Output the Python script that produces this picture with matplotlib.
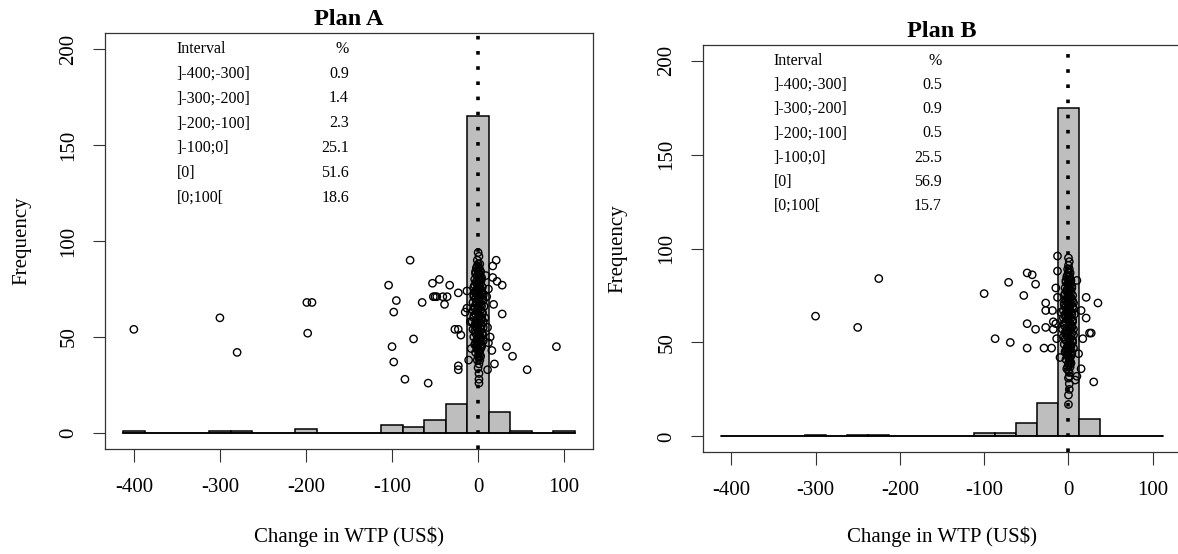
import matplotlib.pyplot as plt

plt.rcParams['font.family'] = ['Liberation Serif', 'DejaVu Serif']

# histogram bins (width 25, centred on multiples of 25)
bin_centres = [-400, -375, -350, -325, -300, -275, -250, -225, -200, -175, -150,
               -125, -100, -75, -50, -25, 0, 25, 50, 75, 100]
counts_a = [1, 0, 0, 0, 1, 1, 0, 0, 2, 0, 0, 0, 4, 3, 7, 15, 165, 11, 1, 0, 1]
counts_b = [0, 0, 0, 0, 1, 0, 1, 1, 0, 0, 0, 0, 2, 2, 7, 18, 175, 9, 0, 0, 0]

# table text
intervals = [']-400;-300]', ']-300;-200]', ']-200;-100]', ']-100;0]', '[0]', '[0;100[']
pct_a = ['0.9', '1.4', '2.3', '25.1', '51.6', '18.6']
pct_b = ['0.5', '0.9', '0.5', '25.5', '56.9', '15.7']

# individual changes in WTP (x) plotted against a jittered height (y)
pts_a_x = [-400, -300, -280, -199, -193, -198,
           -104, -79, -95, -98, -100, -98, -85, -75, -65, -58, -53, -45,
           -52, -50, -48, -41, -39, -36, -33, -23, -27, -23, -20, -23, -23,
           -11, -13, -13, -15, -9, -8,
           21, 17, 17, 22, 28, 18, 28, 33, 40, 16, 19, 11, 57, 91, 11, 12,
           10, 12, 14, 9, 8]
pts_a_y = [54, 60, 42, 68, 68, 52,
           77, 90, 69, 63, 45, 37, 28, 49, 68, 26, 78, 80,
           71, 71, 71, 71, 67, 71, 77, 73, 54, 54, 51, 35, 33,
           38, 74, 65, 63, 58, 44,
           90, 87, 81, 79, 77, 67, 62, 45, 40, 43, 36, 33, 33, 45, 55, 47,
           71, 75, 50, 82, 60]

# dense column of respondents with (almost) no change, plan A
col_a_x = [0, 1, -1, 0, 2, -2, 1, 0, 3, -3, -1, 2, -4, 1, 4, -2, 0, 3,
           -5, 1, 5, -3, 0, 4, -5, -1, 2, 6, -3, 1, 5, -6, -2, 2,
           -4, 0, 4, 7, -6, -1, 3, -3, 1, 5, -5, 0, 4, -7, -2, 2, 6,
           -4, 0, 4, -6, -1, 3, -3, 1, 5, -5, 0, 3, -2, 2, 6, -4, 0, 4,
           -1, 3, -3, 1, 0, 3, -1, 2, 1, 0, 1, 1, 1,
           -1, 2, -3, 1, 4, -2, 2, -4, 0, 3, -1, 5, -3, 2, -5, 1, 6,
           -2, 3, -4, 0, 5, -1, 2, -5, 1, 4, -3, 0, 6, -2, 2, -4, 1, 5,
           -1, 3, -3, 0, 4, -2, 2, 0, 2, 1]
col_a_y = [94, 92, 90, 88, 88, 86, 86, 84, 84, 84, 82, 82, 80, 80, 80, 78, 78, 78,
           76, 76, 76, 74, 74, 74, 72, 72, 72, 72, 70, 70, 70, 68, 68, 68,
           66, 66, 66, 66, 64, 64, 64, 62, 62, 62, 60, 60, 60, 58, 58, 58, 58,
           56, 56, 56, 54, 54, 54, 52, 52, 52, 50, 50, 50, 48, 48, 48, 46, 46, 46,
           44, 44, 42, 42, 40, 40, 38, 38, 36, 34, 31, 28, 26,
           87, 85, 83, 83, 81, 79, 79, 77, 77, 75, 75, 73, 73, 71, 71, 69, 69,
           67, 67, 65, 65, 63, 63, 61, 61, 59, 59, 57, 57, 55, 55, 53, 53, 51, 51,
           49, 49, 47, 47, 45, 45, 43, 43, 41, 39]

pts_b_x = [-300, -250, -225, -100, -87, -71, -69, -53, -49, -43, -39,
           -49, -39, -49, -29, -20, -27, -27, -27, -19, -13, -13, -15, -13,
           -15, -14, -18, -18, 10, 21, 35, 21, 15, 25, 27, 17, 30, 15, 10,
           -2, 8, 12, -10, -9]
pts_b_y = [64, 58, 84, 76, 52, 82, 50, 75, 87, 86, 81,
           60, 57, 47, 47, 47, 71, 67, 58, 67, 96, 88, 79, 74,
           60, 52, 61, 57, 83, 74, 71, 63, 67, 55, 55, 52, 29, 36, 32,
           36, 30, 44, 42, 66]

col_b_x = [0, 1, 0, -1, 1, 0, 2, -2, 1, 0, 3, -3, -1, 2, -4, 1, 4, -2, 0, 3,
           -5, 1, 5, -3, 0, 4, -5, -1, 2, 6, -3, 1, 5, -6, -2, 2,
           -4, 0, 4, 7, -6, -1, 3, -3, 1, 5, -5, 0, 4, -7, -2, 2, 6,
           -4, 0, 4, -6, -1, 3, -3, 1, 5, -5, 0, 3, -2, 2, 6, -4, 0, 4,
           -1, 3, -3, 1, 0, 3, -1, 2, 1, 0, 1, 1, 0, 0,
           -1, 2, -3, 1, 4, -2, 2, -4, 0, 3, -1, 5, -3, 2, -5, 1, 6,
           -2, 3, -4, 0, 5, -1, 2, -5, 1, 4, -3, 0, 6, -2, 2, -4, 1, 5,
           -1, 3, -3, 0, 4, -2, 2, 0, 2, 1, 0, 1]
col_b_y = [95, 93, 91, 89, 89, 87, 87, 85, 85, 83, 83, 83, 81, 81, 79, 79, 79, 77, 77, 77,
           75, 75, 75, 73, 73, 73, 71, 71, 71, 71, 69, 69, 69, 67, 67, 67,
           65, 65, 65, 65, 63, 63, 63, 61, 61, 61, 59, 59, 59, 57, 57, 57, 57,
           55, 55, 55, 53, 53, 53, 51, 51, 51, 49, 49, 49, 47, 47, 47, 45, 45, 45,
           43, 43, 41, 41, 39, 39, 37, 37, 34, 31, 28, 25, 22, 17,
           86, 84, 82, 82, 80, 78, 78, 76, 76, 74, 74, 72, 72, 70, 70, 68, 68,
           66, 66, 64, 64, 62, 62, 60, 60, 58, 58, 56, 56, 54, 54, 52, 52, 50, 50,
           48, 48, 46, 46, 44, 44, 42, 42, 40, 38, 35, 32]

fig = plt.figure(figsize=(11.78, 5.54), dpi=100)
ax_a = fig.add_axes([105 / 1178, 105 / 554, 488 / 1178, 416 / 554])
ax_b = fig.add_axes([703 / 1178, 102 / 554, 478 / 1178, 407 / 554])

panels = [
    (ax_a, 'Plan A', counts_a, pct_a, pts_a_x + col_a_x, pts_a_y + col_a_y, -0.170, -0.2115),
    (ax_b, 'Plan B', counts_b, pct_b, pts_b_x + col_b_x, pts_b_y + col_b_y, -0.178, -0.2088),
]

for ax, title, counts, pct, px, py, ylab_x, xlab_y in panels:
    ax.bar(bin_centres, counts, width=25, color='#bebebe', edgecolor='black',
           linewidth=1.1, zorder=2)
    ax.axhline(0, xmin=(-412.5 + 433.5) / 567, xmax=(112.5 + 433.5) / 567,
               color='black', linewidth=1.1, zorder=2)
    ax.axvline(0, color='black', linewidth=2.6, linestyle=(0, (1, 3.2)), zorder=3)
    ax.scatter(px, py, s=28, facecolors='none', edgecolors='black',
               linewidths=1.0, zorder=4)

    # interval table in the upper left
    ax.text(-350, 200, 'Interval', fontsize=11.5, ha='left', va='center')
    ax.text(-150, 200, '%', fontsize=11.5, ha='right', va='center')
    for i in range(len(intervals)):
        y = 200 - 12.9 * (i + 1)
        ax.text(-350, y, intervals[i], fontsize=11.5, ha='left', va='center')
        ax.text(-150, y, pct[i], fontsize=11.5, ha='right', va='center')

    ax.set_xlim(-433.5, 133.5)
    ax.set_ylim(-8.3, 208.3)
    ax.set_xticks([-400, -300, -200, -100, 0, 100])
    ax.set_xticklabels(['-400', '-300', '-200', '-100', '0', '100'])
    ax.set_yticks([0, 50, 100, 150, 200])
    ax.tick_params(axis='both', direction='out', length=9, width=0.8,
                   labelsize=15, color='#333333')
    ax.tick_params(axis='x', pad=12)
    ax.tick_params(axis='y', pad=10)
    for lab in ax.get_yticklabels():
        lab.set_rotation(90)
        lab.set_va('center')
    for sp in ax.spines.values():
        sp.set_linewidth(0.9)
        sp.set_color('#333333')

    ax.set_title(title, fontsize=17.5, fontweight='bold', pad=5.5)
    ax.set_xlabel('Change in WTP (US$)', fontsize=15)
    ax.set_ylabel('Frequency', fontsize=15)
    ax.xaxis.set_label_coords(0.5, xlab_y)
    ax.xaxis.label.set_va('center')
    ax.yaxis.set_label_coords(ylab_x, 0.5)
    ax.yaxis.label.set_va('center')

fig.savefig('out.png', dpi=100)
